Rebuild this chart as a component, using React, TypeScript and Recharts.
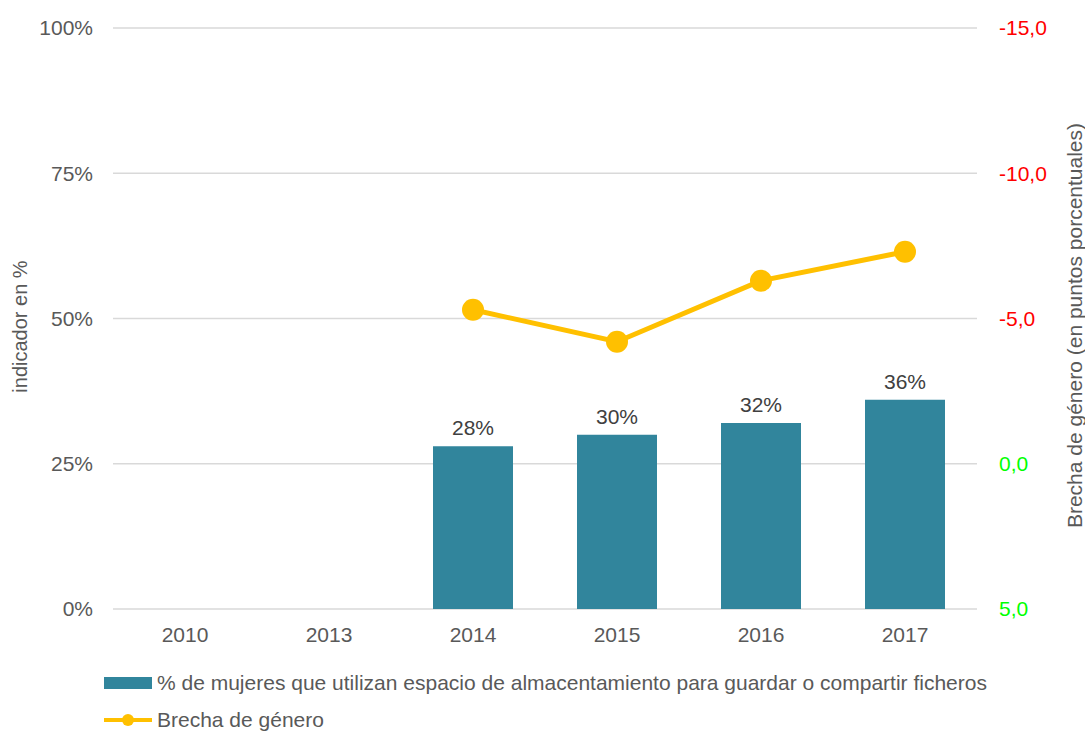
import { Bar, CartesianGrid, ComposedChart, LabelList, Legend, Line, XAxis, YAxis } from 'recharts';

const years = ['2010', '2013', '2014', '2015', '2016', '2017'];
const womenPct = [null, null, 28, 30, 32, 36];
const genderGap = [null, null, -5.3, -4.2, -6.3, -7.3];
const leftTicks = [0, 25, 50, 75, 100];
const rightTicks = [-15, -10, -5, 0, 5];

const barLabel = '% de mujeres que utilizan espacio de almacentamiento para guardar o compartir ficheros';
const lineLabel = 'Brecha de género';

const FONT = '"Liberation Sans", Arial, sans-serif';
const FS = 21;
const BAR_COLOR = '#31859C';
const LINE_COLOR = '#FFC000';
const TEXT = '#595959';

const data = years.map((year, i) => ({ year, women: womenPct[i], gap: genderGap[i] }));

const fmtGap = (v: number) => v.toFixed(1).replace('.', ',');

function GapTick({ x, y, payload }: any) {
  const v = payload.value as number;
  return (
    <text x={x} y={y} dy="0.355em" textAnchor="start" fill={v < 0 ? '#FF0000' : '#00FF00'} fontSize={FS} fontFamily={FONT}>
      {fmtGap(v)}
    </text>
  );
}

function ChartLegend() {
  return (
    <div style={{ fontFamily: FONT, fontSize: FS, color: TEXT, lineHeight: '37px', whiteSpace: 'nowrap' }}>
      <div style={{ display: 'flex', alignItems: 'center' }}>
        <svg width={53} height={14}>
          <rect x={0} y={1} width={48} height={12} fill={BAR_COLOR} />
        </svg>
        <span>{barLabel}</span>
      </div>
      <div style={{ display: 'flex', alignItems: 'center' }}>
        <svg width={53} height={14}>
          <line x1={0} y1={7} x2={48} y2={7} stroke={LINE_COLOR} strokeWidth={4} />
          <circle cx={24} cy={7} r={6} fill={LINE_COLOR} />
        </svg>
        <span>{lineLabel}</span>
      </div>
    </div>
  );
}

export default function App() {
  return (
    <div style={{ position: 'absolute', left: 0, top: 0, width: 1085, height: 731, background: '#fff' }}>
      <ComposedChart width={1085} height={731} data={data} margin={{ top: 28, right: 0, left: 0, bottom: 92 }}>
        <CartesianGrid yAxisId="left" vertical={false} stroke="#d9d9d9" strokeWidth={1.5} />
        <XAxis
          dataKey="year"
          height={30}
          axisLine={false}
          tickLine={false}
          tickMargin={12}
          tick={{ fill: TEXT, fontSize: FS, fontFamily: FONT }}
        />
        <YAxis
          yAxisId="left"
          width={113}
          domain={[0, 100]}
          ticks={leftTicks}
          tickFormatter={(v: number) => `${v}%`}
          axisLine={false}
          tickLine={false}
          tickMargin={14}
          tick={{ fill: TEXT, fontSize: FS, fontFamily: FONT }}
          label={{
            content: ({ viewBox }: any) => {
              const cy = viewBox.y + viewBox.height / 2 + 8;
              return (
                <text x={20} y={cy} transform={`rotate(-90 20 ${cy})`} textAnchor="middle" dominantBaseline="central" fill={TEXT} fontSize={20} fontFamily={FONT}>
                  indicador en %
                </text>
              );
            },
          }}
        />
        <YAxis
          yAxisId="right"
          orientation="right"
          width={108}
          domain={[-15, 5]}
          reversed
          ticks={rightTicks}
          axisLine={false}
          tickLine={false}
          tickMargin={16}
          tick={<GapTick />}
          label={{
            content: ({ viewBox }: any) => {
              const cy = viewBox.y + viewBox.height / 2 + 7;
              return (
                <text x={1074} y={cy} transform={`rotate(-90 1074 ${cy})`} textAnchor="middle" dominantBaseline="central" fill={TEXT} fontSize={FS} fontFamily={FONT}>
                  Brecha de género (en puntos porcentuales)
                </text>
              );
            },
          }}
        />
        <Bar yAxisId="left" dataKey="women" name={barLabel} fill={BAR_COLOR} barSize={80} isAnimationActive={false}>
          <LabelList dataKey="women" position="top" offset={11} formatter={(v: any) => (v == null ? '' : `${v}%`)} fill="#404040" fontSize={FS} fontFamily={FONT} />
        </Bar>
        <Line
          yAxisId="right"
          dataKey="gap"
          name={lineLabel}
          stroke={LINE_COLOR}
          strokeWidth={5}
          dot={{ r: 11, fill: LINE_COLOR, stroke: LINE_COLOR, strokeWidth: 0 }}
          activeDot={false}
          isAnimationActive={false}
        />
        <Legend
          layout="vertical"
          align="center"
          verticalAlign="middle"
          content={<ChartLegend />}
          wrapperStyle={{ top: 664, left: 104, width: 960 }}
        />
      </ComposedChart>
    </div>
  );
}
